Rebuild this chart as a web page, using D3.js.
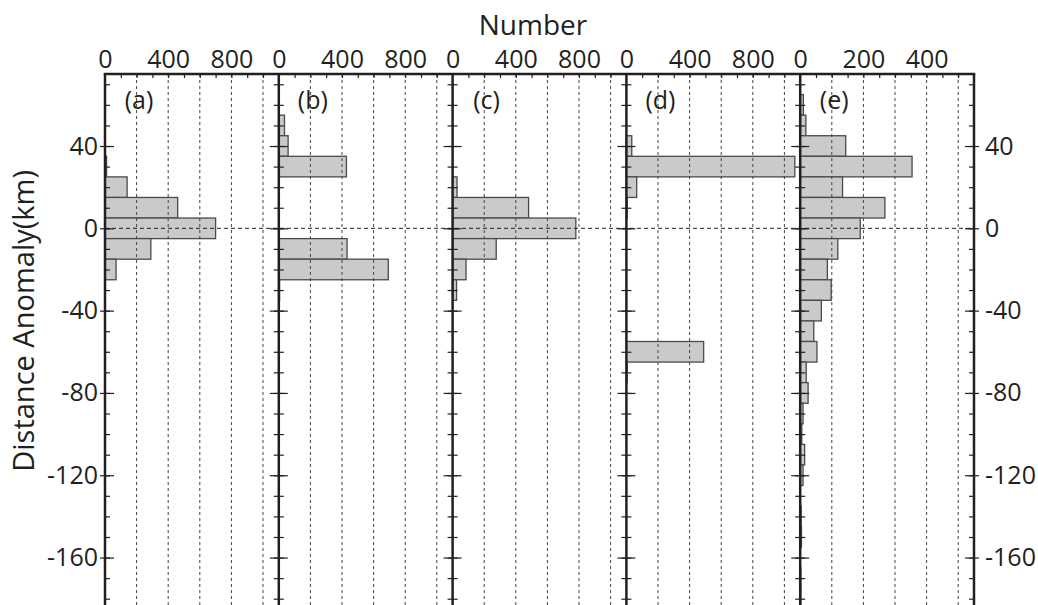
<!DOCTYPE html>
<html>
<head>
<meta charset="utf-8">
<script src="https://cdn.jsdelivr.net/npm/d3@7"></script>
<style>
  body { margin: 0; background: #fff; }
  text { font-family: "Open Sans", sans-serif; fill: #231f20; }
</style>
</head>
<body>
<svg id="chart" width="1038" height="605"></svg>
<script>
// bin centres (km), 10 km bins
const bins = [60, 50, 40, 30, 20, 10, 0, -10, -20, -30, -40, -50, -60, -70, -80, -90, -100, -110, -120, -130, -140, -150, -160, -170, -180]

// counts per bin for each panel
const countsA = [0, 0, 0, 10, 140, 460, 700, 290, 70, 0, 0, 0, 0, 0, 0, 0, 0, 0, 0, 0, 0, 0, 0, 0, 0]
const countsB = [0, 36, 59, 428, 0, 0, 0, 432, 693, 5, 0, 0, 0, 0, 0, 0, 0, 0, 0, 0, 0, 0, 0, 0, 0]
const countsC = [0, 0, 0, 0, 28, 481, 780, 276, 85, 25, 0, 0, 0, 0, 0, 0, 0, 0, 0, 0, 0, 0, 0, 0, 0]
const countsD = [0, 0, 34, 1066, 65, 5, 0, 0, 0, 0, 0, 0, 489, 5, 0, 0, 0, 0, 0, 0, 0, 0, 0, 0, 0]
const countsE = [10, 18, 144, 354, 134, 268, 190, 119, 86, 98, 67, 43, 53, 19, 25, 9, 5, 14, 9, 0, 3, 4, 0, 2, 2]

const panelLabels = ['(a)', '(b)', '(c)', '(d)', '(e)']
const panelMax = [1100, 1100, 1100, 1100, 550]

const xLabelsWide = [0, 400, 800]
const xGridWide = [200, 400, 600, 800, 1000]
const xMinorWide = [100, 200, 300, 400, 500, 600, 700, 800, 900, 1000]
const xLabelsNarrow = [0, 200, 400]
const xGridNarrow = [100, 200, 300, 400, 500]
const xMinorNarrow = [50, 100, 150, 200, 250, 300, 350, 400, 450, 500]

const yLabels = [40, 0, -40, -80, -120, -160]
const yMinor = d3.range(-180, 71, 10)

const svg = d3.select('#chart')
const plotLeft = 105, plotRight = 974, plotTop = 74, plotBottom = 609
const ink = '#231f20'

let y = d3.scaleLinear().domain([-185, 75]).range([plotBottom, plotTop])
let panelX = d3.scaleLinear().domain([0, 5]).range([plotLeft, plotRight])

let allCounts = [countsA, countsB, countsC, countsD, countsE]
let plain = d => String(d)   // keep ascii hyphen like the original
let noDomain = g => g.select('.domain').remove()
let styleText = g => g.selectAll('text')
  .attr('font-size', 25)
  .attr('font-family', '"Open Sans", sans-serif')
  .attr('fill', ink)

allCounts.forEach((counts, i) => {
  let x0 = panelX(i), x1 = panelX(i + 1)
  let x = d3.scaleLinear().domain([0, panelMax[i]]).range([x0, x1])
  let wide = panelMax[i] > 600
  let g = svg.append('g')

  let data = bins.map((b, j) => ({ bin: b, n: counts[j] })).filter(d => d.n > 0)

  g.selectAll('rect.bar')
    .data(data)
    .enter().append('rect')
      .attr('class', 'bar')
      .attr('x', x(0))
      .attr('y', d => y(d.bin + 5))
      .attr('width', d => x(d.n) - x(0))
      .attr('height', d => y(d.bin - 5) - y(d.bin + 5))
      .attr('fill', '#cacaca')
      .attr('stroke', '#4a4a4a')
      .attr('stroke-width', 1.3)

  // vertical dashed grid
  g.selectAll('line.grid')
    .data(wide ? xGridWide : xGridNarrow)
    .enter().append('line')
      .attr('class', 'grid')
      .attr('x1', d => x(d)).attr('x2', d => x(d))
      .attr('y1', plotTop).attr('y2', plotBottom)
      .attr('stroke', '#444')
      .attr('stroke-width', 1)
      .attr('stroke-dasharray', '3,3')

  // minor ticks on top / bottom edges
  g.append('g')
    .attr('transform', `translate(0,${plotTop})`)
    .call(d3.axisBottom(x).tickValues(wide ? xMinorWide : xMinorNarrow).tickSize(4).tickFormat(''))
    .call(noDomain)
  g.append('g')
    .attr('transform', `translate(0,${plotBottom})`)
    .call(d3.axisTop(x).tickValues(wide ? xMinorWide : xMinorNarrow).tickSize(4).tickFormat(''))
    .call(noDomain)

  // top tick labels
  g.append('g')
    .attr('transform', `translate(0,${plotTop})`)
    .call(d3.axisTop(x).tickValues(wide ? xLabelsWide : xLabelsNarrow).tickSize(0).tickPadding(6).tickFormat(plain))
    .call(noDomain)
    .call(styleText)

  // inward y ticks on both sides
  g.append('g')
    .attr('transform', `translate(${x0},0)`)
    .call(d3.axisRight(y).tickValues(yMinor).tickSize(5).tickFormat(''))
    .call(noDomain)
  g.append('g')
    .attr('transform', `translate(${x0},0)`)
    .call(d3.axisRight(y).tickValues(yLabels).tickSize(9).tickFormat(''))
    .call(noDomain)
  g.append('g')
    .attr('transform', `translate(${x1},0)`)
    .call(d3.axisLeft(y).tickValues(yMinor).tickSize(5).tickFormat(''))
    .call(noDomain)
  g.append('g')
    .attr('transform', `translate(${x1},0)`)
    .call(d3.axisLeft(y).tickValues(yLabels).tickSize(9).tickFormat(''))
    .call(noDomain)

  g.append('text')
    .attr('x', x0 + 34)
    .attr('y', 109)
    .attr('text-anchor', 'middle')
    .attr('font-size', 25)
    .text(panelLabels[i])
})

// zero line across all panels
svg.append('line')
  .attr('x1', plotLeft).attr('x2', plotRight)
  .attr('y1', y(0)).attr('y2', y(0))
  .attr('stroke', ink)
  .attr('stroke-width', 1)
  .attr('stroke-dasharray', '4,3')

// outward major ticks on outer edges
svg.append('g')
  .attr('transform', `translate(${plotLeft},0)`)
  .call(d3.axisLeft(y).tickValues(yLabels).tickSize(5).tickFormat(''))
  .call(noDomain)
svg.append('g')
  .attr('transform', `translate(${plotRight},0)`)
  .call(d3.axisRight(y).tickValues(yLabels).tickSize(5).tickFormat(''))
  .call(noDomain)

// panel frames
svg.selectAll('line.edge')
  .data(d3.range(6))
  .enter().append('line')
    .attr('class', 'edge')
    .attr('x1', d => panelX(d)).attr('x2', d => panelX(d))
    .attr('y1', plotTop).attr('y2', plotBottom)
    .attr('stroke', ink)
    .attr('stroke-width', 2.5)
svg.append('line')
  .attr('x1', plotLeft - 1.25).attr('x2', plotRight + 1.25)
  .attr('y1', plotTop).attr('y2', plotTop)
  .attr('stroke', ink)
  .attr('stroke-width', 2.5)
svg.append('line')
  .attr('x1', plotLeft - 1.25).attr('x2', plotRight + 1.25)
  .attr('y1', plotBottom).attr('y2', plotBottom)
  .attr('stroke', ink)
  .attr('stroke-width', 2.5)

svg.selectAll('.tick line').attr('stroke', ink).attr('stroke-width', 1.2)

// y tick labels, left and right
svg.append('g')
  .attr('transform', `translate(${plotLeft},0)`)
  .call(d3.axisLeft(y).tickValues(yLabels).tickSize(0).tickPadding(7).tickFormat(plain))
  .call(noDomain)
  .call(styleText)
svg.append('g')
  .attr('transform', `translate(${plotRight},0)`)
  .call(d3.axisRight(y).tickValues(yLabels).tickSize(0).tickPadding(11).tickFormat(plain))
  .call(noDomain)
  .call(styleText)

// titles
svg.append('text')
  .attr('x', 533)
  .attr('y', 35)
  .attr('text-anchor', 'middle')
  .attr('font-size', 28)
  .text('Number')

svg.append('text')
  .attr('transform', `translate(34,${y(-45)}) rotate(-90)`)
  .attr('text-anchor', 'middle')
  .attr('font-size', 29)
  .text('Distance Anomaly(km)')
</script>
</body>
</html>
